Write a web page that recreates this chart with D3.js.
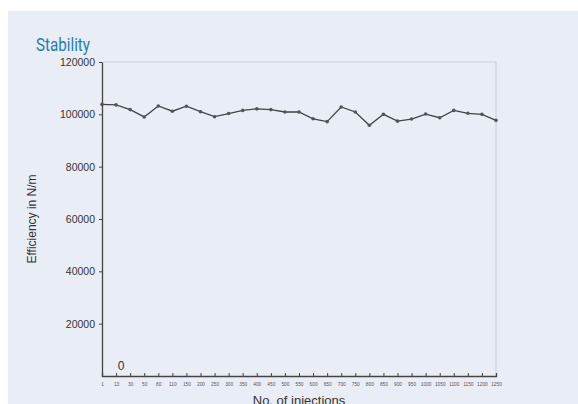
<!DOCTYPE html>
<html>
<head>
<meta charset="utf-8">
<script src="https://cdn.jsdelivr.net/npm/d3@7"></script>
<style>
  body { margin: 0; background: #fff; }
</style>
</head>
<body>
<div id="chart"></div>
<script>
// injection counts (x categories)
var injections = ["1", "13", "30", "50", "80", "110", "150", "200", "250", "300", "350", "400", "450", "500", "550",
    "600", "650", "700", "750", "800", "850", "900", "950", "1000", "1050", "1100", "1150", "1200", "1250"];
// efficiency values in N/m
var efficiency = [103800, 103600, 101800, 99000, 103200, 101200, 103100, 101000, 99100, 100300, 101500, 102100, 101800, 100900, 100900,
    98300, 97200, 102800, 100900, 95800, 100000, 97400, 98200, 100100, 98700, 101500, 100400, 100000, 97700];
var yTicks = [20000, 40000, 60000, 80000, 100000, 120000];

var W = 578, H = 404;
var margin = { top: 62, right: 82, bottom: 28, left: 102 };
var width = W - margin.left - margin.right;
var height = H - margin.top - margin.bottom;

var svg = d3.select("#chart")
    .append("svg")
    .attr("width", W)
    .attr("height", H);

// panel background
svg.append("rect")
    .attr("x", 8).attr("y", 11)
    .attr("width", W - 8).attr("height", H - 11)
    .attr("fill", "#e9edf6");

// title (condensed face)
svg.append("text")
    .attr("x", 36).attr("y", 51)
    .attr("fill", "#1f7db5")
    .attr("textLength", 54)
    .attr("lengthAdjust", "spacingAndGlyphs")
    .style("font-family", "Roboto, sans-serif")
    .style("font-size", "18px")
    .text("Stability");

var g = svg.append("g")
    .attr("transform", `translate(${margin.left}, ${margin.top})`);

var x = d3.scalePoint()
    .domain(injections)
    .range([0, width]);

var y = d3.scaleLinear()
    .domain([0, 120000])
    .range([height, 0]);

// light frame top/right
g.append("path")
    .attr("d", `M0,0H${width}V${height}`)
    .attr("fill", "none")
    .attr("stroke", "#cdd1d9")
    .attr("stroke-width", 1.2);

// x axis
var xAxis = g.append("g")
    .attr("transform", `translate(0, ${height})`)
    .call(d3.axisBottom(x).tickSize(-3).tickPadding(6));
xAxis.select(".domain").attr("stroke", "#444").attr("stroke-width", 1.3);
xAxis.selectAll(".tick line").attr("stroke", "#444");
xAxis.selectAll("text")
    .attr("fill", "#555")
    .attr("transform", "scale(0.8,1)")
    .style("font-family", "'Liberation Sans', Arial, sans-serif")
    .style("font-size", "6px");

// y axis
var yAxis = g.append("g")
    .call(d3.axisLeft(y).tickValues(yTicks).tickFormat(d3.format("d")).tickSize(3).tickPadding(4).tickSizeOuter(0));
yAxis.select(".domain").attr("stroke", "#444").attr("stroke-width", 1.3);
yAxis.selectAll(".tick line").attr("stroke", "#444");
yAxis.selectAll("text")
    .attr("fill", "#333")
    .style("font-family", "'Liberation Sans', Arial, sans-serif")
    .style("font-size", "10.5px");

// stray zero label
g.append("text")
    .attr("x", x("13") + 5)
    .attr("y", y(0) - 6)
    .attr("text-anchor", "middle")
    .attr("fill", "#333")
    .style("font-family", "'Liberation Sans', Arial, sans-serif")
    .style("font-size", "12px")
    .text("0");

// line
var line = d3.line()
    .x((d, i) => x(injections[i]))
    .y(d => y(d));

g.append("path")
    .datum(efficiency)
    .attr("fill", "none")
    .attr("stroke", "#444")
    .attr("stroke-width", 1.3)
    .attr("d", line);

g.selectAll(".dot")
    .data(efficiency)
    .enter()
    .append("circle")
    .attr("class", "dot")
    .attr("cx", (d, i) => x(injections[i]))
    .attr("cy", d => y(d))
    .attr("r", 1.8)
    .attr("fill", "#555");

// axis titles
svg.append("text")
    .attr("transform", `translate(36, ${margin.top + height / 2}) rotate(-90)`)
    .attr("text-anchor", "middle")
    .attr("fill", "#333")
    .style("font-family", "'Liberation Sans', Arial, sans-serif")
    .style("font-size", "12px")
    .text("Efficiency in N/m");

svg.append("text")
    .attr("x", margin.left + width / 2)
    .attr("y", 405)
    .attr("text-anchor", "middle")
    .attr("fill", "#333")
    .style("font-family", "'Liberation Sans', Arial, sans-serif")
    .style("font-size", "13px")
    .text("No. of injections");
</script>
</body>
</html>
